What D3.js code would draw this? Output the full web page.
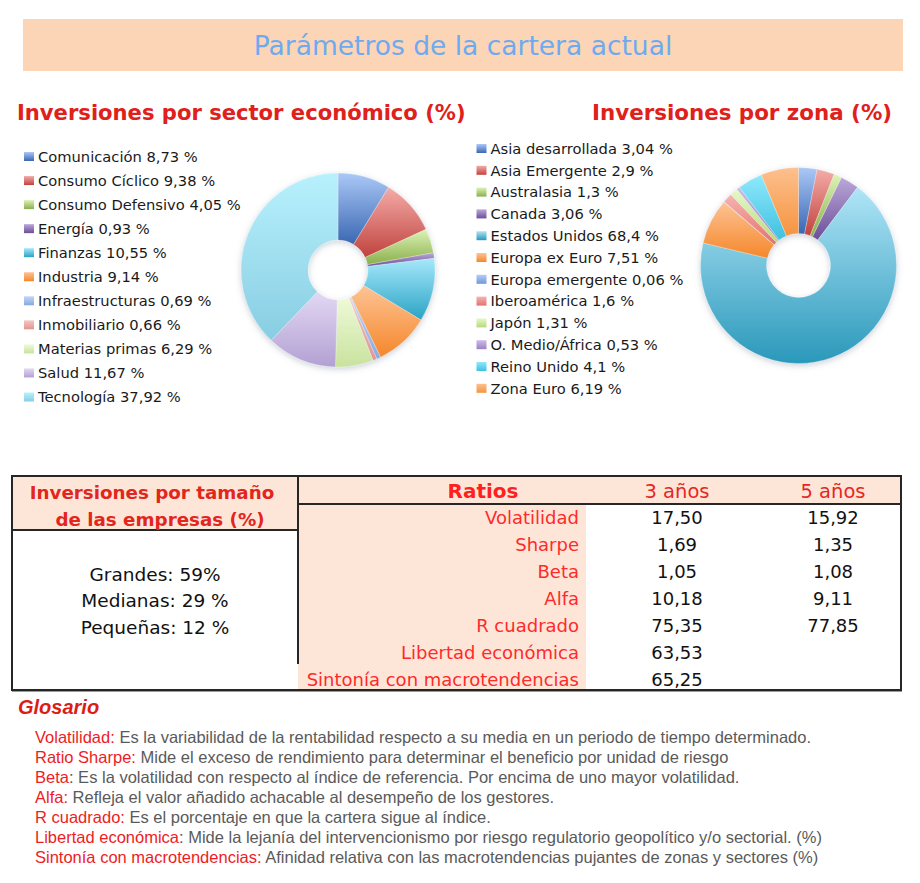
<!DOCTYPE html>
<html><head><meta charset="utf-8">
<script src="https://cdn.jsdelivr.net/npm/d3@7"></script>
<style>
html,body{margin:0;padding:0;background:#fff;}
svg{display:block;}
</style>
</head><body>
<svg id="chart" width="920" height="883"></svg>
<script>
// ---------- DATA ----------
const pageTitle = "Parámetros de la cartera actual";
const sectorTitle = "Inversiones por sector económico (%)";
const zoneTitle = "Inversiones por zona (%)";

const sectorLabels = ["Comunicación","Consumo Cíclico","Consumo Defensivo","Energía","Finanzas","Industria","Infraestructuras","Inmobiliario","Materias primas","Salud","Tecnología"];
const sectorValues = [8.73,9.38,4.05,0.93,10.55,9.14,0.69,0.66,6.29,11.67,37.92];

const zoneLabels = ["Asia desarrollada","Asia Emergente","Australasia","Canada","Estados Unidos","Europa ex Euro","Europa emergente","Iberoamérica","Japón","O. Medio/África","Reino Unido","Zona Euro"];
const zoneValues = [3.04,2.9,1.3,3.06,68.4,7.51,0.06,1.6,1.31,0.53,4.1,6.19];

const sizeHeader = ["Inversiones por tamaño","de las empresas (%)"];
const sizeLabels = ["Grandes: 59%","Medianas: 29 %","Pequeñas: 12 %"];

const ratioHeader = ["Ratios","3 años","5 años"];
const ratioNames = ["Volatilidad","Sharpe","Beta","Alfa","R cuadrado","Libertad económica","Sintonía con macrotendencias"];
const ratio3y = [17.50,1.69,1.05,10.18,75.35,63.53,65.25];
const ratio5y = [15.92,1.35,1.08,9.11,77.85,null,null];

const glossaryTitle = "Glosario";
const glossaryTerms = ["Volatilidad:","Ratio Sharpe:","Beta","Alfa:","R cuadrado:","Libertad económica","Sintonía con macrotendencias:"];
const glossaryDefs = [
 " Es la variabilidad de la rentabilidad respecto a su media en un periodo de tiempo determinado.",
 " Mide el exceso de rendimiento para determinar el beneficio por unidad de riesgo",
 ": Es la volatilidad con respecto al índice de referencia. Por encima de uno mayor volatilidad.",
 " Refleja el valor añadido achacable al desempeño de los gestores.",
 " Es el porcentaje en que la cartera sigue al índice.",
 ": Mide la lejanía del intervencionismo por riesgo regulatorio geopolítico y/o sectorial. (%)",
 " Afinidad relativa con las macrotendencias pujantes de zonas y sectores (%)"
];

// ---------- STYLES ----------
const sectorColors = [
 ["#abc8f7","#3a67b2"],["#f4aca8","#c0433e"],["#dcf3b5","#8aaf4c"],["#bba8d9","#6b4e98"],
 ["#a6e8fb","#2aa3c4"],["#fdc395","#f5872a"],["#c2d7f8","#86a9e2"],["#f6c6c4","#e09590"],
 ["#eefad8","#c9e29e"],["#e2d8f3","#b3a0d3"],["#b8f1fd","#88cde2"]
];
const zoneColors = [
 ["#abc8f7","#3a67b2"],["#f4aca8","#c0433e"],["#dcf3b5","#8aaf4c"],["#bba8d9","#6b4e98"],
 ["#b0e5f7","#2a98ba"],["#fdc395","#f5872a"],["#b4cdf6","#6f98dc"],["#f6b4b1","#e2726d"],
 ["#e6f8c8","#b6da7c"],["#cdbde6","#9b82c6"],["#8fe9fc","#3fc0e0"],["#fdc08e","#f59440"]
];
const fmt = v => String(v).replace(".", ",");
const fmt2 = v => v.toFixed(2).replace(".", ",");

const svg = d3.select("#chart");
const defs = svg.append("defs");

function makeGrad(id, c){
  const g = defs.append("linearGradient").attr("id", id)
    .attr("x1",0).attr("y1",0).attr("x2",0).attr("y2",1);
  g.append("stop").attr("offset","0%").attr("stop-color", c[0]);
  g.append("stop").attr("offset","100%").attr("stop-color", c[1]);
}
sectorColors.forEach((c,i)=>makeGrad("sg"+i,c));
zoneColors.forEach((c,i)=>makeGrad("zg"+i,c));

const shadow = defs.append("filter").attr("id","shadow")
  .attr("x","-20%").attr("y","-20%").attr("width","140%").attr("height","140%");
shadow.append("feDropShadow").attr("dx",0).attr("dy",2).attr("stdDeviation",3)
  .attr("flood-color","#6a7a90").attr("flood-opacity",0.35);

// ---------- TITLE ----------
svg.append("rect").attr("x",23).attr("y",19).attr("width",880).attr("height",52).attr("fill","#fbd5b6");
svg.append("text").attr("x",463).attr("y",45).attr("dy","0.36em").attr("text-anchor","middle")
  .attr("font-family","DejaVu Sans").attr("font-size",26.5).attr("fill","#6eaaf0").text(pageTitle);

svg.append("text").attr("x",17).attr("y",112).attr("dy","0.36em")
  .attr("font-family","DejaVu Sans").attr("font-weight","bold").attr("font-size",21.1)
  .attr("fill","#e0201a").text(sectorTitle);
svg.append("text").attr("x",592).attr("y",112).attr("dy","0.36em")
  .attr("font-family","DejaVu Sans").attr("font-weight","bold").attr("font-size",21.4)
  .attr("fill","#e0201a").text(zoneTitle);

// ---------- DONUTS ----------
function donut(values, cx, cy, rOut, rIn, gradPrefix){
  const pie = d3.pie().sort(null).value(d=>d);
  const arc = d3.arc().innerRadius(rIn).outerRadius(rOut);
  const g = svg.append("g").attr("transform",`translate(${cx},${cy})`);
  const inner = g.append("g").attr("filter","url(#shadow)");
  inner.selectAll("path").data(pie(values)).join("path")
    .attr("d", arc)
    .attr("fill",(d,i)=>`url(#${gradPrefix}${i})`)
    .attr("stroke","rgba(255,255,255,0.45)").attr("stroke-width",0.6);
}
donut(sectorValues, 338, 270, 97, 30, "sg");
donut(zoneValues, 798.5, 265.5, 98, 32, "zg");

// ---------- LEGENDS ----------
function legend(labels, values, x, y0, step, gradPrefix){
  const y = d3.scaleLinear().domain([0, labels.length-1]).range([y0, y0 + step*(labels.length-1)]);
  const g = svg.append("g");
  const rows = g.selectAll("g").data(labels).join("g")
    .attr("transform",(d,i)=>`translate(${x},${y(i)})`);
  rows.append("rect").attr("x",0).attr("y",-4.5).attr("width",10).attr("height",9)
    .attr("fill",(d,i)=>`url(#${gradPrefix}${i})`);
  rows.append("text").attr("x",14).attr("dy","0.36em")
    .attr("font-family","DejaVu Sans").attr("font-size",14.7).attr("fill","#1a1a1a")
    .text((d,i)=>`${d} ${fmt(values[i])} %`);
}
legend(sectorLabels, sectorValues, 24, 156.5, 24.05, "sg");
legend(zoneLabels, zoneValues, 476.5, 148.5, 21.8, "zg");

// ---------- TABLE ----------
const T = {left:12, right:901, top:476, bottom:690, split:298, labelEnd:586};
const rowScale = d3.scaleBand().domain(d3.range(ratioNames.length+1)).range([477, 693]);
const rowC = i => rowScale(i) + rowScale.bandwidth()/2;
const peach = "#fde6d8";

svg.append("rect").attr("x",T.left).attr("y",T.top).attr("width",T.right-T.left).attr("height",rowScale.bandwidth()).attr("fill",peach);
svg.append("rect").attr("x",T.left).attr("y",T.top).attr("width",T.split-T.left).attr("height",530-T.top).attr("fill",peach);
svg.append("rect").attr("x",T.split).attr("y",rowScale(1)).attr("width",T.labelEnd-T.split).attr("height",T.bottom-rowScale(1)).attr("fill",peach);

const lineCol = "#262626";
svg.append("line").attr("x1",T.left).attr("x2",T.split).attr("y1",530).attr("y2",530).attr("stroke",lineCol).attr("stroke-width",2);
svg.append("line").attr("x1",T.split).attr("x2",T.right).attr("y1",rowScale(1)).attr("y2",rowScale(1)).attr("stroke",lineCol).attr("stroke-width",2);
svg.append("line").attr("x1",T.split).attr("x2",T.split).attr("y1",T.top).attr("y2",664).attr("stroke",lineCol).attr("stroke-width",2);
svg.append("rect").attr("x",T.left).attr("y",T.top).attr("width",T.right-T.left).attr("height",T.bottom-T.top)
  .attr("fill","none").attr("stroke",lineCol).attr("stroke-width",2);
svg.append("line").attr("x1",T.left).attr("x2",T.right+1).attr("y1",T.bottom+1.5).attr("y2",T.bottom+1.5).attr("stroke","#9a9a9a").attr("stroke-width",1);

// size box
const sizeHdrX = [152, 160];
sizeHeader.forEach((t,i)=>{
  svg.append("text").attr("x",sizeHdrX[i]).attr("y",492 + i*27).attr("dy","0.36em").attr("text-anchor","middle")
    .attr("font-family","DejaVu Sans").attr("font-weight","bold").attr("font-size",18.3).attr("fill","#e2261e").text(t);
});
const sizeY = d3.scaleLinear().domain([0,2]).range([574, 627]);
svg.append("g").selectAll("text").data(sizeLabels).join("text")
  .attr("x",155).attr("y",(d,i)=>sizeY(i)).attr("dy","0.36em").attr("text-anchor","middle")
  .attr("font-family","DejaVu Sans").attr("font-size",18.5).attr("fill","#111").text(d=>d);

// ratios
const colX = d3.scaleOrdinal().domain([0,1,2]).range([483, 677, 833]);
ratioHeader.forEach((t,i)=>{
  svg.append("text").attr("x",colX(i)).attr("y",rowC(0)).attr("dy","0.36em").attr("text-anchor","middle")
    .attr("font-family","DejaVu Sans").attr("font-weight", i===0?"bold":"normal")
    .attr("font-size", i===0?20:19.5).attr("fill", i===0?"#ff1f1f":"#e8261e").text(t);
});
const rg = svg.append("g").attr("font-family","DejaVu Sans").attr("font-size",18);
rg.selectAll("text.n").data(ratioNames).join("text").attr("class","n")
  .attr("x",579).attr("y",(d,i)=>rowC(i+1)).attr("dy","0.36em").attr("text-anchor","end")
  .attr("fill","#ff2a2a").text(d=>d);
rg.selectAll("text.a").data(ratio3y).join("text").attr("class","a")
  .attr("x",colX(1)).attr("y",(d,i)=>rowC(i+1)).attr("dy","0.36em").attr("text-anchor","middle")
  .attr("fill","#111").text(d=>d==null?"":fmt2(d));
rg.selectAll("text.b").data(ratio5y).join("text").attr("class","b")
  .attr("x",colX(2)).attr("y",(d,i)=>rowC(i+1)).attr("dy","0.36em").attr("text-anchor","middle")
  .attr("fill","#111").text(d=>d==null?"":fmt2(d));

// ---------- GLOSSARY ----------
svg.append("text").attr("x",18).attr("y",707).attr("dy","0.36em")
  .attr("font-family","Liberation Sans").attr("font-weight","bold").attr("font-style","italic")
  .attr("font-size",20).attr("fill","#dd1c16").text(glossaryTitle);
const gy = d3.scaleLinear().domain([0,6]).range([737, 857]);
const gl = svg.append("g").attr("font-family","Liberation Sans").attr("font-size",16.5);
glossaryTerms.forEach((t,i)=>{
  const tx = gl.append("text").attr("x",35).attr("y",gy(i)).attr("dy","0.36em");
  tx.append("tspan").attr("fill","#ee1c24").text(t);
  tx.append("tspan").attr("fill","#5a5a5a").text(glossaryDefs[i]);
});
</script>
</body></html>
